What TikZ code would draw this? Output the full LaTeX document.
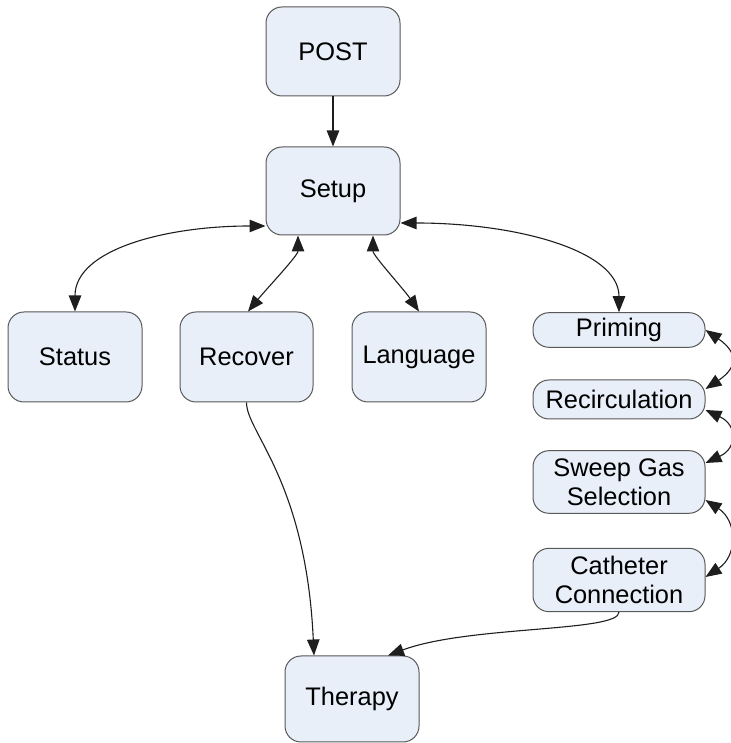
\documentclass[tikz,border=0pt]{standalone}
\usepackage{fontspec}
\setmainfont{Liberation Sans}
\usetikzlibrary{arrows.meta,calc}

\definecolor{boxfill}{RGB}{232,239,248}
\definecolor{boxline}{RGB}{88,88,88}
\definecolor{linkcol}{RGB}{30,30,30}

\begin{document}
\begin{tikzpicture}[x=1pt,y=1pt,
		box/.style={draw=boxline,fill=boxfill,line width=1pt,rounded corners=16pt,inner sep=0pt,align=center,font=\fontsize{25.4}{29}\selectfont},
		link/.style={draw=linkcol,line width=1.1pt,>={Triangle[length=16pt,width=12.5pt]}}]
			
			\useasboundingbox (0,0) rectangle (730,743);
			
			\node[box,minimum width=134pt,minimum height=89pt] (post) at (333,691.5) {POST};
			\node[box,minimum width=134pt,minimum height=88pt] (setup) at (333,552) {Setup};
			
			\node[box,minimum width=134pt,minimum height=90pt] (status) at (75,386) {Status};
			\node[box,minimum width=133pt,minimum height=90pt] (recover) at (246.5,386) {Recover};
			\node[box,minimum width=134pt,minimum height=90pt] (language) at (419,386) {Language};
			
			\node[box,minimum width=172pt,minimum height=34.6pt] (priming) at (619,413) {Priming};
			\node[box,minimum width=172pt,minimum height=39pt] (recirc) at (619,343.5) {Recirculation};
			\node[box,minimum width=172pt,minimum height=62.6pt] (sweep) at (619,261) {Sweep Gas\\Selection};
			\node[box,minimum width=172pt,minimum height=63.4pt] (catheter) at (619,163) {Catheter\\Connection};
			
			\node[box,minimum width=134pt,minimum height=86pt] (therapy) at (352,44) {Therapy};
			
			\draw[link,->] (post) -- (setup);
			
			\draw[link,<->] ($(setup.west)+(0,-35)$) .. controls +(-100,0) and +(0,62) .. (status.north);
			\draw[link,<->] ($(setup.south)+(-35,0)$) .. controls +(0,-20) and +(18,22) .. ($(recover.north)+(1.5,0)$);
			\draw[link,<->] ($(setup.south)+(40,0)$) .. controls +(0,-20) and +(-15,22) .. (language.north);
			\draw[link,<->] ($(setup.east)+(0,-32)$) .. controls +(115,0) and +(0,62) .. (priming.north);
			
			\draw[link,<->] (priming.east) .. controls +(32,-22) and +(33,22) .. ($(recirc.east)+(0,10.5)$);
			\draw[link,<->] ($(recirc.east)+(0,-10.5)$) .. controls +(32,-15) and +(32,15) .. ($(sweep.east)+(0,19)$);
			\draw[link,<->] ($(sweep.east)+(0,-18)$) .. controls +(32,-21) and +(32,21) .. ($(catheter.east)+(0,3)$);
			
			\draw[link,->] (recover.south) .. controls +(0,-30) and +(-8,175) .. ($(therapy.north)+(-38,0)$);
			\draw[link,->] (catheter.south) .. controls +(0,-20) and +(80,30) .. ($(therapy.north)+(36,0)$);
			
		\end{tikzpicture}
\end{document}
